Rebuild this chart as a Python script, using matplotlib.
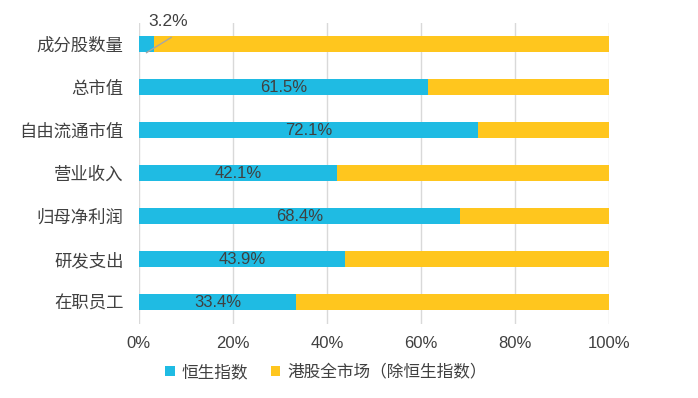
import numpy as np
import matplotlib.pyplot as plt
import matplotlib

matplotlib.rcParams['font.family'] = ['Liberation Sans', 'Noto Sans CJK SC']
matplotlib.rcParams['axes.unicode_minus'] = False

categories = ['成分股数量', '总市值', '自由流通市值', '营业收入', '归母净利润', '研发支出', '在职员工']
hsi_share = [3.2, 61.5, 72.1, 42.1, 68.4, 43.9, 33.4]
series_names = ['恒生指数', '港股全市场（除恒生指数）']
xticks = [0, 20, 40, 60, 80, 100]

blue = '#1FBBE3'
yellow = '#FFC61E'
txt = '#404040'

hsi = np.array(hsi_share)
rest = 100 - hsi
y = np.arange(len(categories))
bh = 0.37

fig = plt.figure(figsize=(6.98, 3.98), dpi=100)
ax = fig.add_axes([0.199, 0.187, 0.6735, 0.756])

ax.barh(y, hsi, height=bh, color=blue, label=series_names[0], zorder=3)
ax.barh(y, rest, left=hsi, height=bh, color=yellow, label=series_names[1], zorder=3)

# 数据标签，小值放在条形上方并加引导线
for i, v in enumerate(hsi_share):
    if v < 10:
        ax.plot([v / 2 - 0.1, v + 3.8], [i + bh / 2 + 0.02, i - bh / 2 + 0.02],
                color='#A6A6A6', lw=1, zorder=5, solid_capstyle='butt')
        ax.text(v + 3.0, i - 0.53, f'{v}%', ha='center', va='center',
                fontsize=12.5, color=txt, zorder=5)
    else:
        ax.text(v / 2, i, f'{v}%', ha='center', va='center', fontsize=12, color=txt, zorder=4)

ax.set_xlim(0, 100)
ax.set_ylim(len(categories) - 0.5, -0.5)
ax.set_yticks(y)
ax.set_yticklabels(categories, fontsize=12.5, color=txt)
ax.set_xticks(xticks)
ax.set_xticklabels([f'{t}%' for t in xticks], fontsize=12, color=txt)
ax.tick_params(axis='both', length=0)
ax.tick_params(axis='x', pad=9)
ax.tick_params(axis='y', pad=11)
ax.grid(axis='x', color='#D9D9D9', lw=1, zorder=0)
for s in ax.spines.values():
    s.set_visible(False)

fig.legend(loc='center', bbox_to_anchor=(0.467, 0.065), ncol=2, frameon=False,
           fontsize=12, handlelength=0.55, handleheight=0.55, handletextpad=0.4,
           columnspacing=1.4, labelcolor=txt)

plt.savefig('out.png', dpi=100)
